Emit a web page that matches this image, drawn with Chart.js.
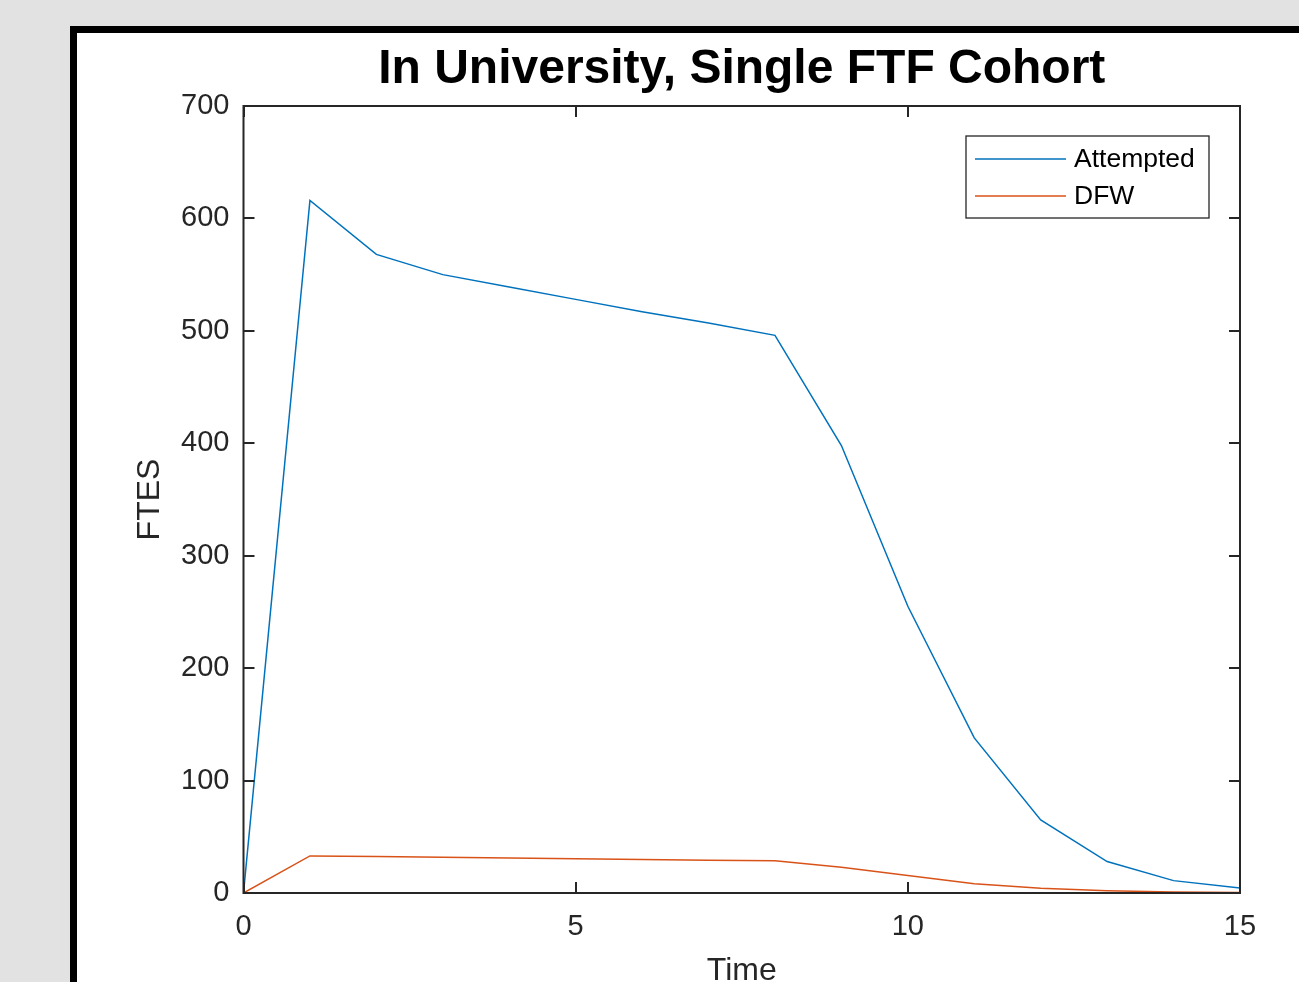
<!DOCTYPE html>
<html>
<head>
<meta charset="utf-8">
<script src="https://cdn.jsdelivr.net/npm/chart.js@4"></script>
<style>
  html, body { margin: 0; padding: 0; width: 1299px; height: 982px; overflow: hidden; background: #e2e2e2; }
  #panel { position: absolute; left: 70px; top: 26px; width: 1400px; height: 1100px; background: #ffffff; border: 7px solid #000000; box-sizing: border-box; }
  #c { position: absolute; left: 0; top: 0; }
</style>
</head>
<body>
<div id="panel"></div>
<canvas id="c" width="1299" height="1000"></canvas>
<script>
// ---- data ----
const timeValues = [0, 1, 2, 3, 4, 5, 6, 7, 8, 9, 10, 11, 12, 13, 14, 15];
const attempted  = [0, 616, 568, 550, 539, 528, 517, 507, 496, 398, 255, 138, 65, 28, 11, 4.5];
const dfw        = [0, 33, 32.4, 31.7, 31.1, 30.5, 29.9, 29.2, 28.6, 23, 15.5, 8.3, 4.2, 2, 0.9, 0.4];
const seriesNames = ['Attempted', 'DFW'];
const chartTitle = 'In University, Single FTF Cohort';
const xTitle = 'Time';
const yTitle = 'FTES';
const xTicks = [0, 5, 10, 15];
const yTicks = [0, 100, 200, 300, 400, 500, 600, 700];

const AX = '#262626';
const FONT = "'Liberation Sans', Arial, Helvetica, sans-serif";

const toPts = (ys) => timeValues.map((x, i) => ({ x: x, y: ys[i] }));

// inner ticks and box, MATLAB style
const boxPlugin = {
  id: 'boxTicks',
  afterDatasetsDraw(chart) {
    const { ctx, chartArea: a, scales } = chart;
    ctx.save();
    ctx.strokeStyle = AX;
    ctx.lineWidth = 2;
    ctx.beginPath();
    const TL = 11;
    scales.x.ticks.forEach(t => {
      const px = Math.round(scales.x.getPixelForValue(t.value));
      ctx.moveTo(px, a.bottom); ctx.lineTo(px, a.bottom - TL);
      ctx.moveTo(px, a.top); ctx.lineTo(px, a.top + TL);
    });
    scales.y.ticks.forEach(t => {
      const py = Math.round(scales.y.getPixelForValue(t.value));
      ctx.moveTo(a.left, py); ctx.lineTo(a.left + TL, py);
      ctx.moveTo(a.right, py); ctx.lineTo(a.right - TL, py);
    });
    ctx.stroke();
    ctx.strokeRect(a.left, a.top, a.right - a.left, a.bottom - a.top);
    ctx.restore();
  }
};

// MATLAB-like legend inside the axes (north-east)
const legendPlugin = {
  id: 'matLegend',
  afterDraw(chart) {
    const { ctx, chartArea: a } = chart;
    const bx = a.right - 31, by = a.top + 30;
    const w = 243, h = 82;
    const x0 = bx - w;
    ctx.save();
    ctx.fillStyle = '#ffffff';
    ctx.fillRect(x0, by, w, h);
    ctx.strokeStyle = AX;
    ctx.lineWidth = 1.3;
    ctx.strokeRect(x0, by, w, h);
    ctx.font = '26.5px ' + FONT;
    ctx.textBaseline = 'middle';
    ctx.textAlign = 'left';
    chart.data.datasets.forEach((ds, i) => {
      const ly = by + 23 + i * 37;
      ctx.strokeStyle = ds.borderColor;
      ctx.lineWidth = 1.5;
      ctx.beginPath();
      ctx.moveTo(x0 + 9, ly); ctx.lineTo(x0 + 100, ly);
      ctx.stroke();
      ctx.fillStyle = '#000000';
      ctx.fillText(ds.label, x0 + 108, ly + 1);
    });
    ctx.restore();
  }
};

new Chart(document.getElementById('c'), {
  type: 'line',
  data: {
    datasets: [
      { label: seriesNames[0], data: toPts(attempted), borderColor: '#0072BD', borderWidth: 1.5, pointRadius: 0, tension: 0, fill: false },
      { label: seriesNames[1], data: toPts(dfw), borderColor: '#D95319', borderWidth: 1.5, pointRadius: 0, tension: 0, fill: false }
    ]
  },
  options: {
    responsive: false,
    animation: false,
    devicePixelRatio: 1,
    layout: { padding: { left: 80, right: 59, top: 35, bottom: 0 } },
    plugins: {
      legend: { display: false },
      tooltip: { enabled: false },
      title: {
        display: true,
        text: chartTitle,
        fullSize: false,
        color: '#000000',
        font: { family: FONT, size: 48, weight: 'bold' },
        padding: { top: 6, bottom: 7.4 }
      }
    },
    scales: {
      x: {
        type: 'linear',
        min: 0, max: 15,
        afterBuildTicks: (s) => { s.ticks = xTicks.map(v => ({ value: v })); },
        afterFit: (s) => { s.height = 107; },
        grid: { display: false, drawTicks: false },
        border: { display: false },
        ticks: { color: AX, font: { family: FONT, size: 29 }, padding: 16.5, maxRotation: 0 },
        title: { display: true, text: xTitle, color: AX, font: { family: FONT, size: 32 }, padding: { top: 0, bottom: 10 } }
      },
      y: {
        type: 'linear',
        min: 0, max: 700,
        afterBuildTicks: (s) => { s.ticks = yTicks.map(v => ({ value: v })); },
        afterFit: (s) => { s.width = 163.5; },
        grid: { display: false, drawTicks: false },
        border: { display: false },
        ticks: { color: AX, font: { family: FONT, size: 29 }, padding: 14 },
        title: { display: true, text: yTitle, color: AX, font: { family: FONT, size: 32 }, padding: { top: 50.8, bottom: 0 } }
      }
    }
  },
  plugins: [boxPlugin, legendPlugin]
});
</script>
</body>
</html>
